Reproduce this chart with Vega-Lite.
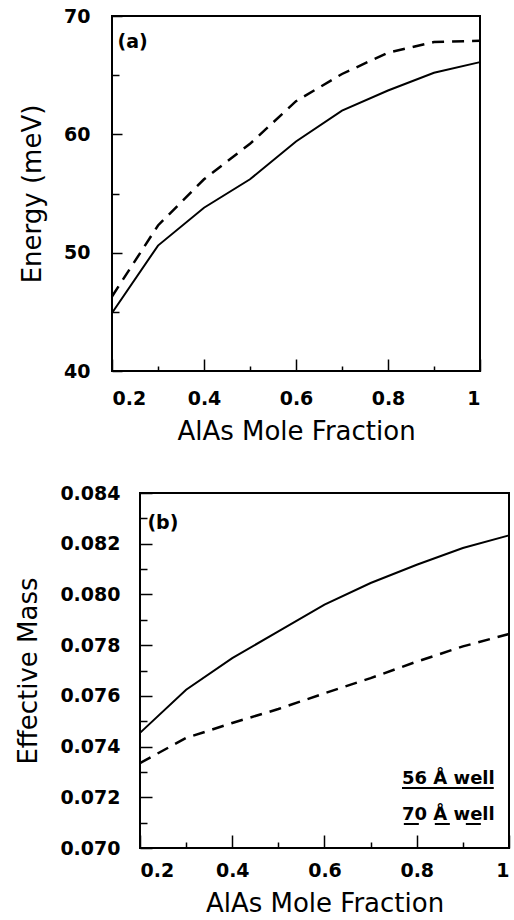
{
  "$schema": "https://vega.github.io/schema/vega-lite/v6.json",
  "padding": {"left": 14, "top": 6, "right": 0, "bottom": 0},
  "spacing": 38,
  "datasets": {
    "energy": [
      {"x": 0.2, "v": 44.9, "well": "56 Å"}, {"x": 0.3, "v": 50.6, "well": "56 Å"}, {"x": 0.4, "v": 53.8, "well": "56 Å"},
      {"x": 0.5, "v": 56.2, "well": "56 Å"}, {"x": 0.6, "v": 59.4, "well": "56 Å"}, {"x": 0.7, "v": 62.0, "well": "56 Å"},
      {"x": 0.8, "v": 63.7, "well": "56 Å"}, {"x": 0.9, "v": 65.2, "well": "56 Å"}, {"x": 1.0, "v": 66.1, "well": "56 Å"},
      {"x": 0.2, "v": 46.3, "well": "70 Å"}, {"x": 0.3, "v": 52.3, "well": "70 Å"}, {"x": 0.4, "v": 56.2, "well": "70 Å"},
      {"x": 0.5, "v": 59.2, "well": "70 Å"}, {"x": 0.6, "v": 62.8, "well": "70 Å"}, {"x": 0.7, "v": 65.1, "well": "70 Å"},
      {"x": 0.8, "v": 66.9, "well": "70 Å"}, {"x": 0.9, "v": 67.8, "well": "70 Å"}, {"x": 1.0, "v": 67.9, "well": "70 Å"}
    ],
    "mass": [
      {"x": 0.2, "v": 0.07454, "well": "56 Å"}, {"x": 0.3, "v": 0.07624, "well": "56 Å"}, {"x": 0.4, "v": 0.07749, "well": "56 Å"},
      {"x": 0.5, "v": 0.07854, "well": "56 Å"}, {"x": 0.6, "v": 0.07960, "well": "56 Å"}, {"x": 0.7, "v": 0.08045, "well": "56 Å"},
      {"x": 0.8, "v": 0.08117, "well": "56 Å"}, {"x": 0.9, "v": 0.08183, "well": "56 Å"}, {"x": 1.0, "v": 0.08233, "well": "56 Å"},
      {"x": 0.2, "v": 0.07335, "well": "70 Å"}, {"x": 0.3, "v": 0.07434, "well": "70 Å"}, {"x": 0.4, "v": 0.07493, "well": "70 Å"},
      {"x": 0.5, "v": 0.07548, "well": "70 Å"}, {"x": 0.6, "v": 0.07610, "well": "70 Å"}, {"x": 0.7, "v": 0.07670, "well": "70 Å"},
      {"x": 0.8, "v": 0.07735, "well": "70 Å"}, {"x": 0.9, "v": 0.07795, "well": "70 Å"}, {"x": 1.0, "v": 0.07844, "well": "70 Å"}
    ]
  },
  "vconcat": [
    {
      "width": 368,
      "height": 355,
      "resolve": {"axis": {"x": "independent", "y": "independent"}},
      "layer": [
        {
          "data": {"name": "energy"},
          "transform": [{"filter": "datum.well === '56 Å'"}],
          "mark": {"type": "line", "color": "black", "strokeWidth": 2},
          "encoding": {
            "x": {"field": "x", "type": "quantitative", "scale": {"domain": [0.2, 1], "nice": false},
              "axis": {"orient": "bottom", "values": [0.2, 0.4, 0.6, 0.8, 1], "format": "~g", "tickSize": -12, "labelPadding": 30, "title": "AlAs Mole Fraction", "titlePadding": 10}},
            "y": {"field": "v", "type": "quantitative", "scale": {"domain": [40, 70], "nice": false, "zero": false},
              "axis": {"orient": "left", "values": [40, 50, 60, 70], "tickSize": -10, "labelPadding": 32, "title": "Energy (meV)", "titlePadding": 18}}
          }
        },
        {
          "data": {"name": "energy"},
          "transform": [{"filter": "datum.well === '70 Å'"}],
          "mark": {"type": "line", "color": "black", "strokeWidth": 2.5, "strokeDash": [12, 8]},
          "encoding": {
            "x": {"field": "x", "type": "quantitative",
              "axis": {"orient": "bottom", "values": [0.3, 0.5, 0.7, 0.9], "tickSize": -5, "labels": false, "title": null, "domain": false}},
            "y": {"field": "v", "type": "quantitative",
              "axis": {"orient": "left", "values": [45, 55, 65], "tickSize": -7, "labels": false, "title": null, "domain": false}}
          }
        },
        {
          "data": {"values": [{"label": "(a)"}]},
          "mark": {"type": "text", "align": "left", "baseline": "alphabetic", "fontSize": 19, "fontWeight": "bold", "font": "DejaVu Sans", "color": "black"},
          "encoding": {
            "text": {"field": "label"},
            "x": {"datum": 0.212, "type": "quantitative", "axis": null},
            "y": {"datum": 67.3, "type": "quantitative", "axis": null}
          }
        }
      ]
    },
    {
      "hconcat": [
        {
          "width": 28,
          "height": 355,
          "data": {"values": [{}]},
          "view": {"stroke": null},
          "mark": {"type": "rule", "opacity": 0},
          "encoding": {}
        },
        {
          "width": 369,
          "height": 355,
          "resolve": {"axis": {"x": "independent", "y": "independent"}},
          "layer": [
            {
              "data": {"name": "mass"},
              "transform": [{"filter": "datum.well === '56 Å'"}],
              "mark": {"type": "line", "color": "black", "strokeWidth": 2},
              "encoding": {
                "x": {"field": "x", "type": "quantitative", "scale": {"domain": [0.2, 1], "nice": false},
                  "axis": {"orient": "bottom", "values": [0.2, 0.4, 0.6, 0.8, 1], "format": "~g", "tickSize": -13, "labelPadding": 26, "title": "AlAs Mole Fraction", "titlePadding": 10}},
                "y": {"field": "v", "type": "quantitative", "scale": {"domain": [0.07, 0.084], "nice": false, "zero": false},
                  "axis": {"orient": "left", "values": [0.07, 0.072, 0.074, 0.076, 0.078, 0.08, 0.082, 0.084], "format": ".3f", "tickSize": -12, "labelPadding": 32, "title": "Effective Mass", "titlePadding": 18}}
              }
            },
            {
              "data": {"name": "mass"},
              "transform": [{"filter": "datum.well === '70 Å'"}],
              "mark": {"type": "line", "color": "black", "strokeWidth": 2.5, "strokeDash": [12, 8]},
              "encoding": {
                "x": {"field": "x", "type": "quantitative",
                  "axis": {"orient": "bottom", "values": [0.3, 0.5, 0.7, 0.9], "tickSize": -6, "labels": false, "title": null, "domain": false}},
                "y": {"field": "v", "type": "quantitative",
                  "axis": {"orient": "left", "values": [0.071, 0.073, 0.075, 0.077, 0.079, 0.081, 0.083], "tickSize": -7, "labels": false, "title": null, "domain": false}}
              }
            },
            {
              "data": {"values": [{"label": "(b)"}]},
              "mark": {"type": "text", "align": "left", "baseline": "alphabetic", "fontSize": 19, "fontWeight": "bold", "font": "DejaVu Sans", "color": "black"},
              "encoding": {
                "text": {"field": "label"},
                "x": {"datum": 0.216, "type": "quantitative", "axis": null},
                "y": {"datum": 0.0826, "type": "quantitative", "axis": null}
              }
            },
            {
              "data": {"values": [{"label": "56 Å well"}]},
              "mark": {"type": "text", "align": "left", "baseline": "alphabetic", "fontSize": 18, "fontWeight": "bold", "font": "DejaVu Sans", "color": "black"},
              "encoding": {
                "text": {"field": "label"},
                "x": {"datum": 0.768, "type": "quantitative", "axis": null},
                "y": {"datum": 0.07252, "type": "quantitative", "axis": null}
              }
            },
            {
              "data": {"values": [{"label": "70 Å well"}]},
              "mark": {"type": "text", "align": "left", "baseline": "alphabetic", "fontSize": 18, "fontWeight": "bold", "font": "DejaVu Sans", "color": "black"},
              "encoding": {
                "text": {"field": "label"},
                "x": {"datum": 0.768, "type": "quantitative", "axis": null},
                "y": {"datum": 0.07111, "type": "quantitative", "axis": null}
              }
            },
            {
              "data": {"values": [{"well": "56 Å"}]},
              "mark": {"type": "rule", "color": "black", "strokeWidth": 2},
              "encoding": {
                "x": {"datum": 0.768, "type": "quantitative", "axis": null},
                "x2": {"datum": 0.967},
                "y": {"datum": 0.07237, "type": "quantitative", "axis": null}
              }
            },
            {
              "data": {"values": [{"well": "70 Å"}]},
              "mark": {"type": "rule", "color": "black", "strokeWidth": 2, "strokeDash": [15, 16]},
              "encoding": {
                "x": {"datum": 0.772, "type": "quantitative", "axis": null},
                "x2": {"datum": 0.94},
                "y": {"datum": 0.07095, "type": "quantitative", "axis": null}
              }
            }
          ]
        }
      ],
      "spacing": 0,
      "bounds": "flush"
    }
  ],
  "config": {
    "view": {"stroke": "black", "strokeWidth": 2},
    "axis": {
      "grid": false,
      "domain": false,
      "tickColor": "black",
      "tickWidth": 1.5,
      "labelFont": "DejaVu Sans",
      "labelFontWeight": "bold",
      "labelFontSize": 19,
      "labelColor": "black",
      "titleFont": "DejaVu Sans",
      "titleFontWeight": "normal",
      "titleFontSize": 26,
      "titleColor": "black"
    },
    "axisY": {"labelAngle": 0}
  }
}
